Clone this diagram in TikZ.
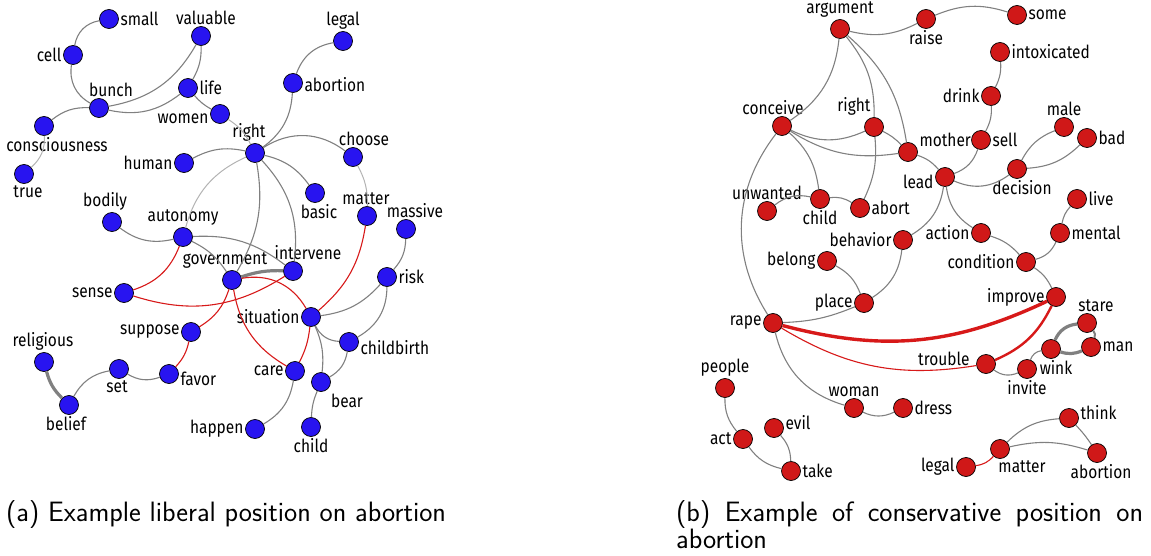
\documentclass[tikz,border=0pt]{standalone}
\usepackage{fontspec}
\newfontfamily\wordfont[FakeStretch=0.86]{Fira Sans}
\definecolor{nodeblue}{RGB}{40,20,240}
\definecolor{nodered}{RGB}{208,24,24}
\definecolor{linkgray}{RGB}{128,128,128}
\definecolor{linkred}{RGB}{215,25,25}
\newcommand*\placeWords[3]{%
    \foreach \word/\x/\y/\side/\dx/\dy in {#3} {%
        \node[concept/#2, label={[concept/word,xshift=\dx,yshift=\dy]\side:\word}]
            (#1-\word) at (\x,\y) {};
    }%
}
\newcommand*\linkWords[2]{%
    \foreach \source/\target/\bend/\kind in {#2} {%
        \draw[concept/\kind] (#1-\source) to[bend left=\bend] (#1-\target);
    }%
}
\tikzset{concept/.cd,
         liberal/.style={circle,draw=black,line width=.7pt,fill=nodeblue,
                         minimum size=19pt,inner sep=0pt},
         conservative/.style={concept/liberal,fill=nodered},
         word/.style={font=\wordfont\fontsize{18}{20}\selectfont,inner sep=1.5pt},
         link/.style={draw=linkgray,line width=1.1pt},
         faint/.style={draw=linkgray!60,line width=1pt},
         medium/.style={draw=linkgray,line width=2pt},
         heavy/.style={draw=linkgray,line width=3.2pt},
         red/.style={draw=linkred,line width=1.1pt},
         redmid/.style={draw=linkred,line width=2.4pt},
         redheavy/.style={draw=linkred,line width=3.4pt},
         caption/.style={font=\sffamily\fontsize{28}{27}\selectfont,inner sep=0pt}}

\begin{document}
\begin{tikzpicture}[x=1pt,y=-1pt]
\useasboundingbox (0,0) rectangle (1151,556);
% (a) liberal
\placeWords{l}{liberal}{small/109/19/right/0/0, cell/73/55/left/0/0,
    valuable/201/36/above/5/0, bunch/99/108/above/12/0, life/188/88/right/0/0,
    women/220/114/left/0/-5, consciousness/44/126/below/13/0, true/24/174/below/4/0,
    legal/343/41/above/0/0, abortion/293/83/right/0/-2, right/255/153/above/-6/0,
    human/184/163/left/0/0, choose/353/157/above/11/0, basic/315/193/below/4/0,
    matter/367/216/above/-1/0, massive/406/229/above/9/0, bodily/112/222/above/-7/0,
    autonomy/183/237/above/0/0, intervene/293/271/above/15/0,
    government/232/280/above/-7/0, sense/124/293/left/0/0, risk/387/277/right/0/0,
    situation/311/317/left/0/0, suppose/191/332/left/0/0,
    childbirth/349/342/right/0/-6, religious/44/362/above/-1/0, set/119/369/below/-2/0,
    favor/169/374/right/0/-5, care/295/371/left/0/0, bear/321/382/below/26/0,
    belief/69/405/below/-3/0, happen/255/429/left/0/0, child/311/427/below/0/0}
\linkWords{l}{small/cell/-35/link, cell/bunch/-35/link, valuable/bunch/25/link,
    valuable/life/15/link, life/bunch/25/link, bunch/consciousness/-20/link,
    consciousness/true/25/faint, life/women/-10/link, women/right/15/faint,
    legal/abortion/-30/link, abortion/right/25/link, right/human/-20/link,
    right/choose/35/link, right/basic/20/link, right/autonomy/-25/faint,
    right/government/20/link, right/intervene/25/link, choose/matter/15/faint,
    bodily/autonomy/-25/link, autonomy/intervene/20/link, autonomy/government/15/link,
    autonomy/sense/25/red, government/intervene/10/heavy, sense/intervene/-25/red,
    government/situation/35/red, government/suppose/20/red, government/care/-25/red,
    matter/situation/20/red, situation/care/10/red, massive/risk/20/link,
    risk/situation/20/link, risk/childbirth/30/link, situation/childbirth/-30/link,
    situation/bear/15/link, childbirth/bear/25/link, bear/child/-10/link,
    care/happen/25/link, suppose/favor/15/red, favor/set/25/link,
    set/belief/-25/link, religious/belief/-15/heavy}
% (b) conservative
\placeWords{r}{conservative}{argument/840/29/above/0/0, raise/926/19/below/0/0,
    some/1017/15/right/0/0, intoxicated/1000/52/right/0/0, drink/991/96/left/0/0,
    conceive/782/126/above/-9/0, right/874/127/above/-20/0, mother/908/152/right/0/12,
    sell/981/140/right/0/0, male/1064/127/above/0/0, bad/1087/138/right/0/0,
    lead/945/177/left/0/-5, decision/1017/169/below/5/0, unwanted/767/211/above/0/0,
    child/820/199/below/0/0, abort/860/208/right/0/0, live/1077/199/right/0/0,
    behavior/903/240/left/0/0, action/981/233/left/0/0, mental/1060/233/right/0/0,
    belong/827/261/left/0/0, condition/1026/262/left/0/0, place/864/303/left/0/0,
    improve/1056/297/left/0/0, stare/1087/323/above/9/0, rape/773/323/left/0/0,
    man/1091/347/right/0/0, wink/1051/349/below/5/0, trouble/986/364/left/-5/5,
    invite/1027/369/below/0/0, people/725/388/above/0/0, woman/854/408/above/0/0,
    dress/903/408/right/0/0, think/1069/418/right/0/5, evil/774/428/right/0/5,
    act/743/439/left/0/0, matter/1000/449/below/22/0, abortion/1097/453/below/4/0,
    legal/966/467/left/0/0, take/791/471/right/0/0}
\linkWords{r}{argument/raise/-20/link, raise/some/20/link, argument/conceive/25/link,
    argument/right/20/link, argument/mother/20/link, intoxicated/drink/15/link,
    drink/sell/15/link, sell/lead/25/link, conceive/right/-25/link,
    conceive/mother/-20/link, conceive/child/20/link, conceive/rape/-35/link,
    right/mother/10/link, right/abort/15/link, mother/lead/15/link,
    male/decision/-20/link, bad/decision/20/link, lead/decision/-30/link,
    lead/behavior/25/link, lead/action/-25/link, unwanted/child/25/link,
    child/abort/20/link, live/mental/-15/link, mental/condition/25/link,
    action/condition/15/link, condition/improve/15/link, behavior/place/25/link,
    belong/place/20/link, place/rape/10/link, rape/improve/-20/redheavy,
    rape/trouble/-20/red, trouble/improve/-20/redmid, trouble/invite/-30/link,
    invite/wink/30/link, wink/man/-20/heavy, wink/stare/30/heavy, stare/man/30/medium,
    rape/woman/-30/link, woman/dress/-25/link, people/act/-20/link,
    act/take/-20/link, evil/take/20/link, legal/matter/-20/red,
    matter/think/20/link, matter/abortion/15/link, think/abortion/5/link}
% captions
\node[concept/caption, anchor=base west] (caption-a) at (6,521)
    {(a) Example liberal position on abortion};
\node[concept/caption, anchor=north west, text width=467pt, align=justify]
    (caption-b) at (676,500) {(b) Example of conservative position on abortion};
\end{tikzpicture}
\end{document}
